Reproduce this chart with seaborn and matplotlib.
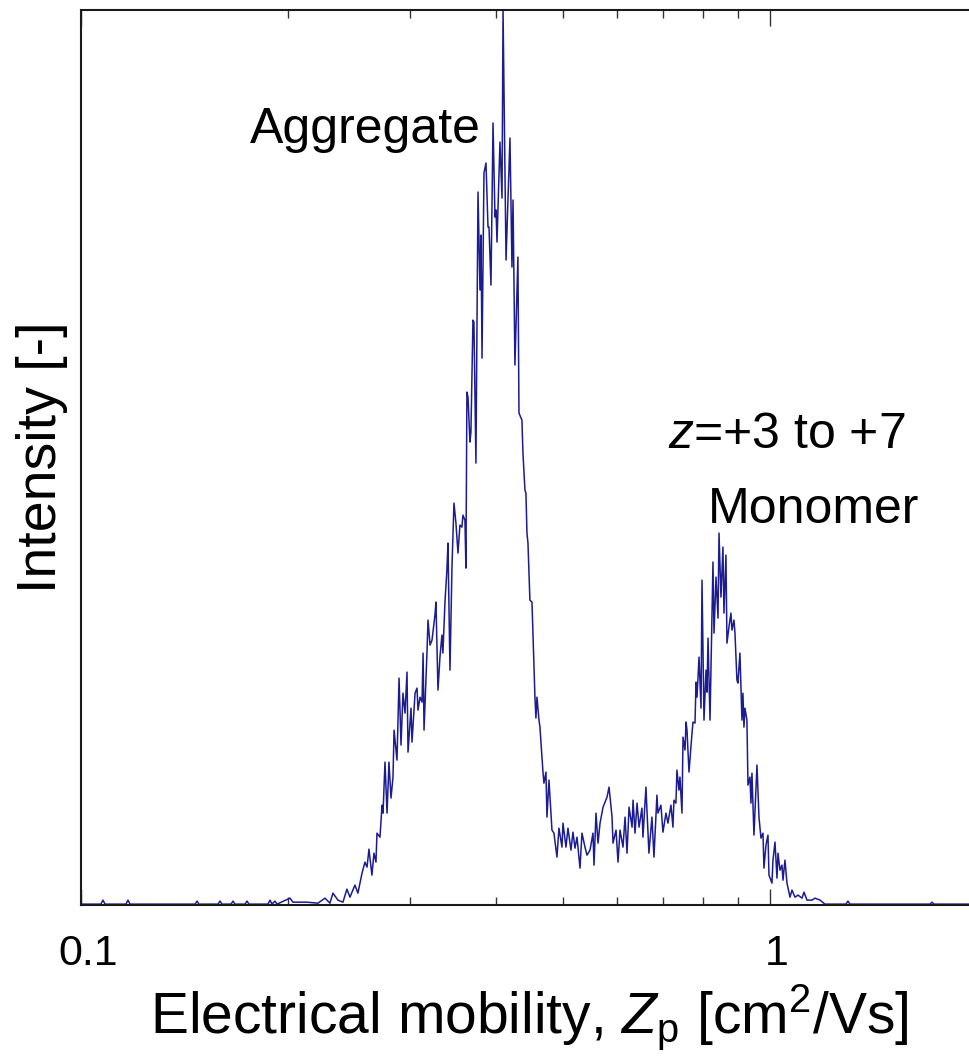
import numpy as np
import pandas as pd
import matplotlib
matplotlib.use("Agg")
import matplotlib.pyplot as plt
from matplotlib.ticker import FixedLocator, FixedFormatter, NullFormatter
from matplotlib.transforms import ScaledTranslation
import seaborn as sns

# ---------------- data ----------------
# low-mobility baseline
base_mob = [0.1000, 0.1069, 0.1076, 0.1084, 0.1162, 0.1170, 0.1178, 0.1464, 0.1474, 0.1483,
            0.1581, 0.1591, 0.1602, 0.1651, 0.1662, 0.1673, 0.1730, 0.1742, 0.1753, 0.1868,
            0.1881, 0.1893, 0.1912, 0.1925]
base_int = [0, 0, 0.0045, 0, 0, 0.0045, 0, 0, 0.0034, 0,
            0, 0.0034, 0, 0, 0.0034, 0, 0, 0.0034, 0, 0,
            0.0045, 0, 0.0034, 0]

# aggregate peak
agg_mob = [0.2011, 0.2031, 0.2128, 0.2208, 0.2260, 0.2298, 0.2321, 0.2360, 0.2400, 0.2432,
           0.2457, 0.2498, 0.2523, 0.2558, 0.2583, 0.2601, 0.2618, 0.2644, 0.2662, 0.2680,
           0.2689, 0.2716, 0.2735, 0.2744, 0.2762, 0.2781, 0.2799, 0.2818, 0.2837, 0.2847,
           0.2875, 0.2895, 0.2914, 0.2933, 0.2953, 0.2973, 0.2983, 0.3013, 0.3023, 0.3054,
           0.3074, 0.3084, 0.3105, 0.3126, 0.3137, 0.3147, 0.3179, 0.3189, 0.3211, 0.3232,
           0.3264, 0.3275, 0.3297, 0.3319, 0.3341, 0.3352, 0.3375, 0.3397, 0.3409, 0.3432,
           0.3455, 0.3478, 0.3501, 0.3525, 0.3548, 0.3572, 0.3584, 0.3608, 0.3620, 0.3632,
           0.3645, 0.3669, 0.3681, 0.3706, 0.3718, 0.3743, 0.3769, 0.3794, 0.3807, 0.3820,
           0.3845, 0.3871, 0.3897, 0.3910, 0.3936, 0.3963, 0.3989, 0.4003, 0.4016, 0.4056,
           0.4084, 0.4098, 0.4139, 0.4194, 0.4222, 0.4237, 0.4264, 0.4307, 0.4322, 0.4365,
           0.4380, 0.4409, 0.4424, 0.4439, 0.4454, 0.4483, 0.4514, 0.4559, 0.4574, 0.4590,
           0.4621, 0.4636, 0.4683, 0.4698, 0.4730, 0.4746]
agg_int = [0.0067, 0.0022, 0.0022, 0.0011, 0.0067, 0.0011, 0.0123, 0.0045, 0.0022, 0.0168,
           0.0078, 0.0213, 0.0123, 0.0347, 0.0470, 0.0414, 0.0615, 0.0324, 0.0570, 0.0470,
           0.0794, 0.0749, 0.1107, 0.1018, 0.1588, 0.1018, 0.1588, 0.1186, 0.1421, 0.1946,
           0.1611, 0.2528, 0.1779, 0.2360, 0.2136, 0.2595, 0.1700, 0.2192, 0.1812, 0.2360,
           0.2416, 0.2170, 0.2315, 0.2260, 0.2808, 0.1946, 0.2841, 0.3177, 0.2897, 0.2953,
           0.3233, 0.3378, 0.2394, 0.2763, 0.3009, 0.2808, 0.3378, 0.3736, 0.4038, 0.2617,
           0.3770, 0.4485, 0.4262, 0.3926, 0.4239, 0.4217, 0.4351, 0.4295, 0.3758, 0.5727,
           0.5671, 0.5168, 0.5280, 0.6532, 0.6510, 0.4933, 0.7964, 0.6868, 0.7483, 0.6107,
           0.8177, 0.8289, 0.7573, 0.7573, 0.6924, 0.8736, 0.7685, 0.7763, 0.7405, 0.8523,
           0.7897, 1.0000, 0.7204, 0.8568, 0.7125, 0.7875, 0.6029, 0.7237, 0.5492, 0.5414,
           0.5045, 0.4631, 0.4597, 0.4150, 0.4038, 0.3400, 0.3378, 0.2315, 0.2081, 0.2315,
           0.2058, 0.1980, 0.1477, 0.1353, 0.1477, 0.0973]

# valley between peaks
val_mob = [0.4778, 0.4826, 0.4858, 0.4907, 0.4940, 0.4990, 0.5007, 0.5057, 0.5091, 0.5142,
           0.5177, 0.5212, 0.5247, 0.5300, 0.5335, 0.5389, 0.5425, 0.5480, 0.5535, 0.5554,
           0.5591, 0.5629, 0.5667, 0.5724, 0.5801, 0.5840, 0.5899, 0.5918, 0.5978, 0.6018,
           0.6058, 0.6119, 0.6161, 0.6202, 0.6244, 0.6307, 0.6328, 0.6370, 0.6413, 0.6456,
           0.6519, 0.6541, 0.6607, 0.6629, 0.6673, 0.6740, 0.6786, 0.6854, 0.6877, 0.6946,
           0.6993, 0.7064, 0.7111, 0.7183, 0.7230, 0.7255, 0.7303, 0.7328, 0.7377]
val_int = [0.1387, 0.0828, 0.0794, 0.0526, 0.0850, 0.0638, 0.0906, 0.0638, 0.0850, 0.0604,
           0.0805, 0.0626, 0.0749, 0.0403, 0.0794, 0.0638, 0.0548, 0.0604, 0.0794, 0.0436,
           0.1018, 0.0682, 0.0906, 0.1085, 0.1197, 0.1309, 0.0973, 0.0682, 0.0828, 0.0470,
           0.0828, 0.0638, 0.0973, 0.0570, 0.1085, 0.0861, 0.1163, 0.0794, 0.1130, 0.0861,
           0.1074, 0.0749, 0.1309, 0.1051, 0.0570, 0.0973, 0.0526, 0.1219, 0.1018, 0.1107,
           0.0805, 0.1018, 0.0906, 0.1107, 0.0861, 0.1163, 0.1130, 0.1499, 0.1275]

# monomer peak
mono_mob = [0.7402, 0.7452, 0.7478, 0.7528, 0.7554, 0.7578, 0.7629, 0.7706, 0.7732, 0.7784,
            0.7810, 0.7836, 0.7889, 0.7942, 0.7968, 0.8021, 0.8075, 0.8102, 0.8130, 0.8184,
            0.8266, 0.8294, 0.8350, 0.8406, 0.8434, 0.8489, 0.8546, 0.8574, 0.8632, 0.8661,
            0.8719, 0.8777, 0.8807, 0.8866, 0.8896, 0.8955, 0.8985, 0.9045, 0.9106, 0.9136,
            0.9167, 0.9198, 0.9259, 0.9291, 0.9353, 0.9384, 0.9416, 0.9479, 0.9543, 0.9575,
            0.9639, 0.9704, 0.9769, 0.9801, 0.9867, 0.9933, 0.9967, 1.0067, 1.0101, 1.0169,
            1.0237, 1.0271, 1.0340, 1.0409, 1.0444, 1.0514, 1.0585, 1.0692, 1.0763, 1.0872,
            1.0982, 1.1130, 1.1204, 1.1317, 1.1507, 1.1624, 1.1820, 1.2016]
mono_int = [0.1421, 0.1018, 0.1868, 0.1723, 0.2036, 0.1946, 0.1477, 0.1913, 0.2036, 0.2025,
            0.2483, 0.2315, 0.2763, 0.2192, 0.3624, 0.2058, 0.2617, 0.2371, 0.2975, 0.2058,
            0.3826, 0.3031, 0.3658, 0.3199, 0.4150, 0.3434, 0.3993, 0.3255, 0.3904, 0.2919,
            0.3098, 0.3255, 0.3065, 0.3177, 0.3031, 0.2506, 0.2472, 0.2808, 0.2058, 0.2360,
            0.1980, 0.2192, 0.2058, 0.1331, 0.1421, 0.1130, 0.1465, 0.0772, 0.1309, 0.1555,
            0.0973, 0.0738, 0.0794, 0.0403, 0.0660, 0.0772, 0.0324, 0.0235, 0.0492, 0.0694,
            0.0291, 0.0570, 0.0380, 0.0436, 0.0268, 0.0492, 0.0235, 0.0078, 0.0157, 0.0078,
            0.0101, 0.0067, 0.0134, 0.0045, 0.0045, 0.0067, 0.0045, 0.0]

# high-mobility tail
tail_mob = [1.2889, 1.2976, 1.3064, 1.7070, 1.7184, 1.7300, 2.0]
tail_int = [0, 0.0034, 0, 0, 0.0022, 0, 0]

xtick_values = [0.1, 1]
xtick_labels = ["0.1", "1"]
minor_ticks = [0.2, 0.3, 0.4, 0.5, 0.6, 0.7, 0.8, 0.9, 2.0]

# ---------------- figure ----------------
sns.set_style("white")
plt.rcParams["font.family"] = ["Liberation Sans", "DejaVu Sans"]
plt.rcParams["mathtext.fontset"] = "custom"
plt.rcParams["mathtext.rm"] = "Liberation Sans"
plt.rcParams["mathtext.it"] = "Liberation Sans:italic"
plt.rcParams["text.color"] = "black"
plt.rcParams["axes.labelcolor"] = "black"

df = pd.DataFrame({
    "mobility": base_mob + agg_mob + val_mob + mono_mob + tail_mob,
    "intensity": base_int + agg_int + val_int + mono_int + tail_int,
})

fig = plt.figure(figsize=(9.70, 10.64), dpi=100)
ax = fig.add_axes([0.0835, 0.1494, 0.9241, 0.8412])
ax.set_xscale("log")
sns.lineplot(data=df, x="mobility", y="intensity", ax=ax, color="#1c1c92",
             linewidth=1.1, estimator=None, sort=False)

ax.set_xlim(0.1, 2.0)
ax.set_ylim(-0.001, 1.0)

ax.xaxis.set_major_locator(FixedLocator(xtick_values))
ax.xaxis.set_major_formatter(FixedFormatter(xtick_labels))
ax.xaxis.set_minor_locator(FixedLocator(minor_ticks))
ax.xaxis.set_minor_formatter(NullFormatter())
ax.set_yticks([])

ax.tick_params(axis="x", which="both", direction="in", top=True, bottom=True,
               colors="#333333", labelcolor="black", labelsize=31, pad=21)
ax.tick_params(axis="x", which="major", length=11.5, width=1.0)
ax.tick_params(axis="x", which="minor", length=5.8, width=1.0)

shift = ScaledTranslation(7 / 100, 0, fig.dpi_scale_trans)
for lab in ax.get_xticklabels():
    lab.set_transform(lab.get_transform() + shift)

for sp in ax.spines.values():
    sp.set_visible(True)
    sp.set_linewidth(1.5)
    sp.set_color("#1a1a1a")

ax.set_xlabel(r"Electrical mobility, $Z_\mathrm{p}$ [cm$^2$/Vs]", fontsize=41, labelpad=6)
ax.set_ylabel("Intensity [-]", fontsize=40, labelpad=9)

ax.text(0.1885, 0.8514, "Aggregate", transform=ax.transAxes, fontsize=36,
        ha="left", va="baseline", color="black")
ax.text(0.6548, 0.5106, r"$z$=+3 to +7", transform=ax.transAxes, fontsize=36,
        ha="left", va="baseline", color="black")
ax.text(0.6995, 0.4268, "Monomer", transform=ax.transAxes, fontsize=36,
        ha="left", va="baseline", color="black")

fig.savefig("out.png", dpi=100)
